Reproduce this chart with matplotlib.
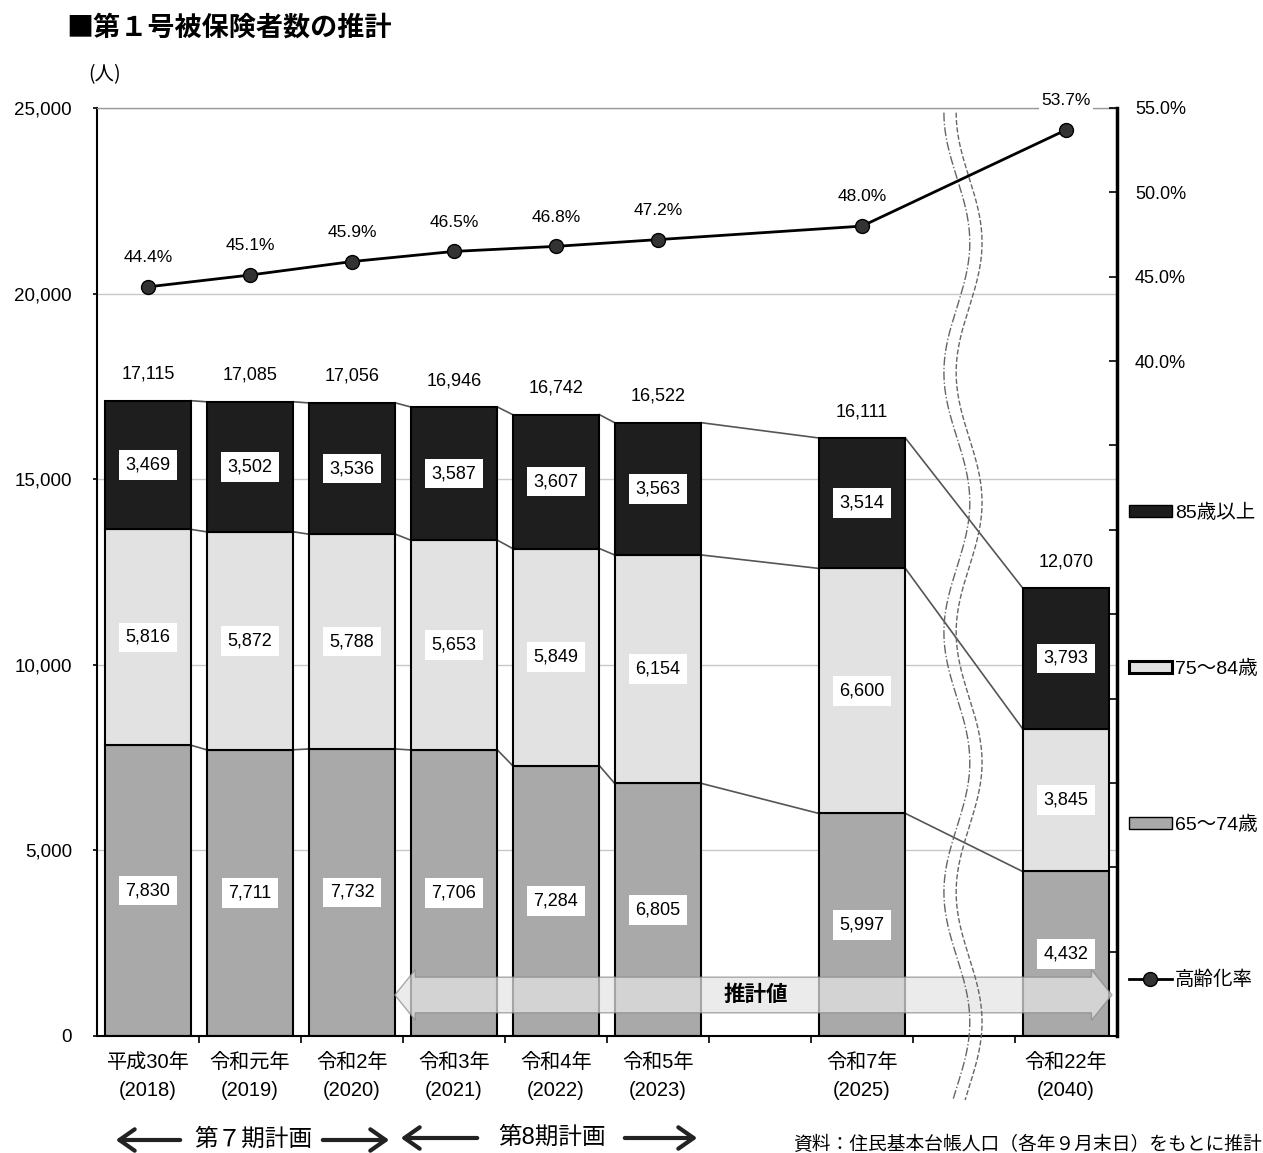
import numpy as np
import matplotlib
matplotlib.use("Agg")
import matplotlib.pyplot as plt
import matplotlib.transforms as mtransforms
from matplotlib.patches import Patch, Polygon, FancyArrowPatch
from matplotlib.lines import Line2D

plt.rcParams['font.family'] = ['Liberation Sans', 'Noto Sans CJK JP']
CJK = ['Noto Sans CJK JP', 'DejaVu Sans']

# 年度ラベルと配置スロット（令和6年・令和8〜21年は空き）
year_labels = ['平成30年\n(2018)', '令和元年\n(2019)', '令和2年\n(2020)', '令和3年\n(2021)',
               '令和4年\n(2022)', '令和5年\n(2023)', '令和7年\n(2025)', '令和22年\n(2040)']
slots = [0, 1, 2, 3, 4, 5, 7, 9]

age_65_74 = [7830, 7711, 7732, 7706, 7284, 6805, 5997, 4432]
age_75_84 = [5816, 5872, 5788, 5653, 5849, 6154, 6600, 3845]
age_85_over = [3469, 3502, 3536, 3587, 3607, 3563, 3514, 3793]
totals = [17115, 17085, 17056, 16946, 16742, 16522, 16111, 12070]
aging_rate = [44.4, 45.1, 45.9, 46.5, 46.8, 47.2, 48.0, 53.7]

c_85 = '#1e1e1e'
c_75 = '#e2e2e2'
c_65 = '#a9a9a9'

W, H = 1263, 1153


def px(x, y):
    # ピクセル位置 -> figure座標
    return x / W, 1 - y / H


fig = plt.figure(figsize=(W / 100, H / 100), dpi=100)
ax = fig.add_axes([97 / W, 1 - 1036 / H, (1117 - 97) / W, (1036 - 108) / H])

x = np.array(slots, dtype=float)
bw = 0.85
b2 = np.array(age_65_74)
b3 = b2 + np.array(age_75_84)
top = b3 + np.array(age_85_over)

ax.bar(x, age_65_74, bw, color=c_65, edgecolor='black', linewidth=1.5, zorder=2)
ax.bar(x, age_75_84, bw, bottom=b2, color=c_75, edgecolor='black', linewidth=1.5, zorder=2)
ax.bar(x, age_85_over, bw, bottom=b3, color=c_85, edgecolor='black', linewidth=1.5, zorder=2)

# 各区分の境目をつなぐ線
for lvl in (b2, b3, top):
    for i in range(len(x) - 1):
        ax.plot([x[i] + bw / 2, x[i + 1] - bw / 2], [lvl[i], lvl[i + 1]],
                color='#555555', linewidth=1.2, zorder=1.5)

# 区分ごとの人数ラベル
box = dict(boxstyle='square,pad=0.35', fc='white', ec='none')
for i in range(len(x)):
    for val, bot in ((age_65_74[i], 0), (age_75_84[i], b2[i]), (age_85_over[i], b3[i])):
        ax.text(x[i], bot + val / 2, f'{val:,}', ha='center', va='center',
                fontsize=13, bbox=box, zorder=4)
    ax.annotate(f'{totals[i]:,}', (x[i], top[i]), xytext=(0, 19), textcoords='offset points',
                ha='center', va='center', fontsize=13, zorder=4)

ax.set_xlim(-0.5, 9.5)
ax.set_ylim(0, 25000)
ax.set_yticks(range(0, 25001, 5000))
ax.set_yticklabels([f'{v:,}' for v in range(0, 25001, 5000)])
ax.tick_params(axis='y', direction='out', length=3, width=1.2, pad=15, labelsize=13.5)

ax.set_xticks(np.arange(0.5, 9.5, 1))
ax.set_xticklabels([])
ax.tick_params(axis='x', which='major', direction='out', length=5, width=1.2)
ax.set_xticks(x, minor=True)
ax.set_xticklabels(year_labels, minor=True, fontsize=14.5, linespacing=1.6)
ax.tick_params(axis='x', which='minor', length=0, pad=12)

ax.grid(axis='y', color='#c8c8c8', linewidth=1)
ax.set_axisbelow(True)
ax.spines['top'].set_color('#999999')
ax.spines['top'].set_linewidth(1)
ax.spines['right'].set_visible(False)
ax.spines['left'].set_linewidth(1.5)
ax.spines['bottom'].set_linewidth(1.5)

# 推計値の両矢印
ax_x0, ax_x1 = 2.42, 9.45
yc, body, head, hl = 1105, 480, 680, 0.2
arrow_pts = [(ax_x0, yc), (ax_x0 + hl, yc + head), (ax_x0 + hl, yc + body),
             (ax_x1 - hl, yc + body), (ax_x1 - hl, yc + head), (ax_x1, yc),
             (ax_x1 - hl, yc - head), (ax_x1 - hl, yc - body), (ax_x0 + hl, yc - body),
             (ax_x0 + hl, yc - head)]
ax.add_patch(Polygon(arrow_pts, closed=True, fc='#e4e4e4', ec='#8a8a8a',
                     alpha=0.72, linewidth=1, zorder=3))
ax.text(5.96, yc, '推計値', ha='center', va='center', fontsize=15.5, fontweight='bold', zorder=5)

# 高齢化率（右軸）
ax2 = ax.twinx()
ax2.set_ylim(0, 55)
ax2.plot(x, aging_rate, color='black', linewidth=2, marker='o', markersize=10,
         markerfacecolor='#333333', markeredgecolor='black', zorder=5)
for xi, r in zip(x, aging_rate):
    ax2.annotate(f'{r:.1f}%', (xi, r), xytext=(0, 21), textcoords='offset points',
                 ha='center', va='center', fontsize=12.5,
                 bbox=dict(boxstyle='square,pad=0.15', fc='white', ec='none'))
rticks = np.arange(0, 56, 5)
ax2.set_yticks(rticks)
ax2.set_yticklabels([f'{v:.1f}%' if v >= 40 else '' for v in rticks])
ax2.tick_params(axis='y', direction='in', length=6, width=1.2, pad=13, labelsize=13)
for s in ('top', 'left', 'bottom'):
    ax2.spines[s].set_visible(False)
ax2.spines['right'].set_linewidth(2.5)

# 省略を示す波線
trans = mtransforms.blended_transform_factory(ax.transData, ax.transAxes)
yy = np.linspace(0.995, -0.069, 300)
wave = 0.127 * np.sin(2 * np.pi * (yy - 0.995) / 0.28 - np.pi / 2)
ax.plot(8 - 0.01 + wave - 0.06, yy, transform=trans, color='#666666', linewidth=1,
        linestyle='-.', clip_on=False, zorder=3)
ax.plot(8 - 0.01 + wave + 0.06, yy, transform=trans, color='#666666', linewidth=1,
        linestyle='--', clip_on=False, zorder=3)

# 凡例
handles = [Patch(fc=c_85, ec='black', linewidth=1),
           Patch(fc=c_75, ec='black', linewidth=2.2),
           Patch(fc=c_65, ec='black', linewidth=1),
           Line2D([0], [0], color='black', linewidth=2, marker='o', markersize=10,
                  markerfacecolor='#333333')]
fig.legend(handles, ['85歳以上', '75～84歳', '65～74歳', '高齢化率'],
           loc='upper left', bbox_to_anchor=px(1129, 504), frameon=False,
           fontsize=14, handlelength=2.2, handleheight=0.55, handletextpad=0.15,
           labelspacing=7.07, borderpad=0, borderaxespad=0)

# タイトル・単位
fig.text(*px(66, 28), '■第１号被保険者数の推計', fontsize=19.5, fontweight='bold',
         va='center', family=CJK)
fig.text(*px(88, 75), '(人)', fontsize=14, va='center', family=CJK)

# 計画期間の矢印
arrow_kw = dict(arrowstyle='->,head_length=0.5,head_width=0.35', mutation_scale=22,
                linewidth=3, color='#222222', transform=fig.transFigure)
fig.add_artist(FancyArrowPatch(px(183, 1140), px(113, 1140), **arrow_kw))
fig.add_artist(FancyArrowPatch(px(320, 1140), px(392, 1140), **arrow_kw))
fig.add_artist(FancyArrowPatch(px(480, 1138), px(398, 1138), **arrow_kw))
fig.add_artist(FancyArrowPatch(px(622, 1138), px(700, 1138), **arrow_kw))
fig.text(*px(253, 1140), '第７期計画', fontsize=17, ha='center', va='center')
fig.text(*px(552, 1138), '第8期計画', fontsize=17, ha='center', va='center')

fig.text(*px(1262, 1145), '資料：住民基本台帳人口（各年９月末日）をもとに推計',
         fontsize=13.5, ha='right', va='center')

fig.savefig('out.png', dpi=100)
